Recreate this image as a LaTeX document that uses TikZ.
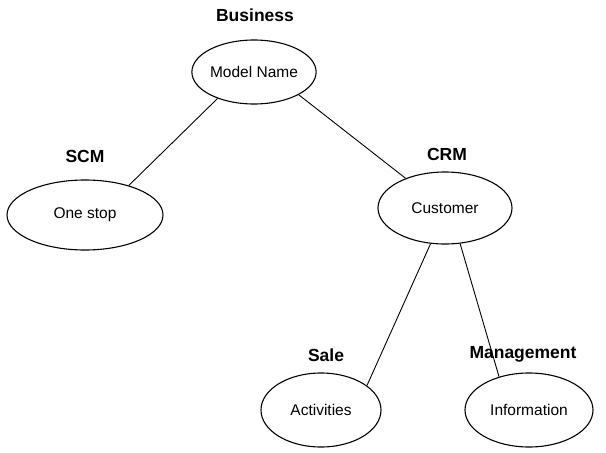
\documentclass[tikz,border=0pt]{standalone}
\usepackage{fontspec}
\setmainfont{Liberation Sans}
\usetikzlibrary{shapes.geometric}
\tikzset{
  ell/.style={draw, ellipse, line width=1.1pt, inner sep=0pt, font=\fontsize{15.5}{17}\selectfont},
  lab/.style={font=\bfseries\fontsize{17.5}{19}\selectfont, inner sep=0pt},
  link/.style={draw, line width=0.9pt}
}
\begin{document}
\begin{tikzpicture}[x=1pt,y=-1pt]
\useasboundingbox (0,0) rectangle (606,453);
\node[ell, minimum width=124pt, minimum height=64pt] (b) at (254,72) {Model Name};
\node[lab] (bl) at (255,15) {Business};
\node[ell, minimum width=156pt, minimum height=70pt] (s) at (85,215) {One stop};
\node[lab] (sl) at (85,156) {SCM};
\node[ell, minimum width=134pt, minimum height=72pt] (c) at (445,208) {Customer};
\node[lab] (cl) at (447,154) {CRM};
\node[ell, minimum width=120pt, minimum height=74pt] (a) at (321,410) {Activities};
\node[lab] (al) at (326,355) {Sale};
\node[ell, minimum width=128pt, minimum height=74pt] (m) at (529,410) {Information};
\node[lab] (ml) at (523,354) {Management};
\draw[link] (b.216) -- (s.34);
\draw[link] (b.333) -- (c.143);
\draw[link] (c.248) -- (a.28);
\draw[link] (c.293) -- (m.132);
\end{tikzpicture}
\end{document}
